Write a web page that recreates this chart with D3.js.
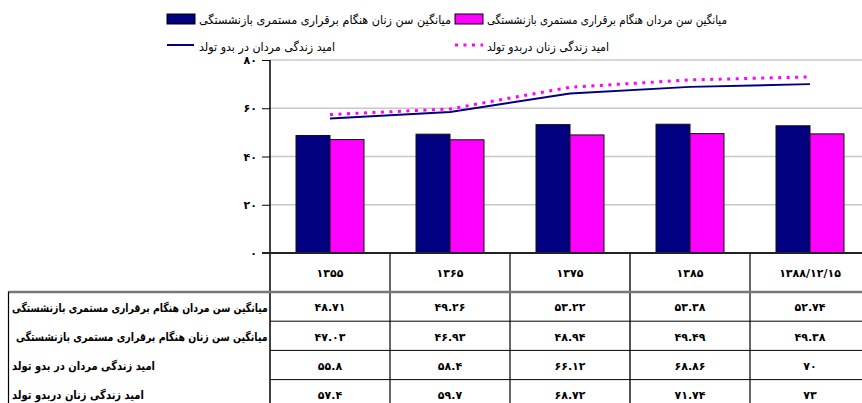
<!DOCTYPE html>
<html>
<head>
<meta charset="utf-8">
<script src="https://cdn.jsdelivr.net/npm/d3@7"></script>
<style>
  body { margin: 0; background: #fff; }
  svg text { font-family: "DejaVu Sans", sans-serif; fill: #000; }
</style>
</head>
<body>
<svg id="chart" width="862" height="403"></svg>
<script>
// Chart data
const years      = ['1355', '1365', '1375', '1385', '1388/12/15'];
const menRetire  = [48.71, 49.26, 53.22, 53.38, 52.74];
const womRetire  = [47.03, 46.93, 48.94, 49.49, 49.38];
const menLife    = [55.8, 58.4, 66.12, 68.86, 70];
const womLife    = [57.4, 59.7, 68.72, 71.74, 73];
const yTicks     = [0, 20, 40, 60, 80];

const seriesNames = [
    'میانگین سن مردان هنگام برقراری مستمری بازنشستگی',
    'میانگین سن زنان هنگام برقراری مستمری بازنشستگی',
    'امید زندگی مردان در بدو تولد',
    'امید زندگی زنان دربدو تولد'
];

// Persian digits for all printed numbers
const faDigits = '۰۱۲۳۴۵۶۷۸۹';
const toFa = (v) => String(v).replace(/[0-9]/g, d => faDigits[+d]);

const navy = '#000080';
const pink = '#ff00ff';

const svg = d3.select('#chart');

// Squeeze a text horizontally so it spans the wanted width, keeping its height
function fitWidth(sel, x, y, width) {
    sel.each(function() {
        const natural = this.getComputedTextLength();
        const sx = Math.min(1, width / natural);
        d3.select(this).attr('x', 0).attr('y', 0)
          .attr('transform', `translate(${x},${y}) scale(${sx},1)`);
    });
}

// Plot area
const plot = {left: 270, right: 870, top: 60, bottom: 253};

const xScale = d3.scaleBand().domain(years).range([plot.left, plot.right])
                 .paddingInner(0).paddingOuter(0);
const subScale = d3.scaleBand().domain([0, 1]).range([0, xScale.bandwidth()])
                   .paddingInner(0).paddingOuter(0.765);
const yScale = d3.scaleLinear().domain([0, 80]).range([plot.bottom, plot.top]);

// Grid lines
svg.append('g').selectAll('line').data(yTicks.filter(d => d > 0)).enter()
   .append('line')
   .attr('x1', plot.left).attr('x2', plot.right)
   .attr('y1', d => yScale(d)).attr('y2', d => yScale(d))
   .attr('stroke', '#c8c8c8').attr('stroke-width', 1.5);

// Bars
const bars = svg.append('g');
[menRetire, womRetire].forEach((vals, i) => {
    bars.selectAll(`.b${i}`).data(vals).enter()
        .append('rect')
        .attr('class', `b${i}`)
        .attr('x', (d, j) => xScale(years[j]) + subScale(i))
        .attr('y', d => yScale(d))
        .attr('width', subScale.bandwidth())
        .attr('height', d => yScale(0) - yScale(d))
        .attr('fill', i ? pink : navy)
        .attr('stroke', '#111').attr('stroke-width', 1);
});

// Life expectancy lines
const lineGen = d3.line()
    .x((d, j) => xScale(years[j]) + xScale.bandwidth() / 2)
    .y(d => yScale(d));

svg.append('path').datum(menLife).attr('d', lineGen)
   .attr('fill', 'none').attr('stroke', navy).attr('stroke-width', 2);
svg.append('path').datum(womLife).attr('d', lineGen)
   .attr('fill', 'none').attr('stroke', pink).attr('stroke-width', 3)
   .attr('stroke-dasharray', '3,5.5');

// Y axis
const yAxis = d3.axisLeft(yScale).tickValues(yTicks).tickFormat(toFa)
                .tickSize(8).tickPadding(5);
const yG = svg.append('g').attr('transform', `translate(${plot.left},0)`).call(yAxis);
yG.select('.domain').remove();
yG.selectAll('.tick line').attr('stroke', '#000');
yG.selectAll('.tick text').style('font-size', '11px').style('font-weight', 'bold');

// Y axis line, running down through the table
svg.append('line').attr('x1', plot.left).attr('x2', plot.left)
   .attr('y1', plot.top).attr('y2', 403).attr('stroke', '#000').attr('stroke-width', 1.5);

// Data table below the plot
const rowTop    = 292;
const rowH      = 29.2;
const tableVals = [menRetire, womRetire, menLife, womLife];
const labelX    = [12, 16, 12, 12];
const labelLen  = [256, 252, 143, 132];

// Column separators
svg.append('g').selectAll('line').data(years.slice(1)).enter()
   .append('line')
   .attr('x1', d => xScale(d)).attr('x2', d => xScale(d))
   .attr('y1', plot.bottom).attr('y2', 403)
   .attr('stroke', (d, i) => i === 2 ? '#555' : '#000')
   .attr('stroke-width', (d, i) => i === 2 ? 2 : 1.2);

// Row separators in the value columns
svg.append('g').selectAll('line').data([1, 2, 3]).enter()
   .append('line')
   .attr('x1', plot.left).attr('x2', 862)
   .attr('y1', d => rowTop + d * rowH).attr('y2', d => rowTop + d * rowH)
   .attr('stroke', '#000').attr('stroke-width', 1);

// Header line below the year row
svg.append('line').attr('x1', 8).attr('x2', 862)
   .attr('y1', rowTop).attr('y2', rowTop)
   .attr('stroke', '#777').attr('stroke-width', 2.5);

// Left border of label column
svg.append('line').attr('x1', 8.5).attr('x2', 8.5)
   .attr('y1', rowTop).attr('y2', 403).attr('stroke', '#000').attr('stroke-width', 1.2);

// X axis line
svg.append('line').attr('x1', 262).attr('x2', 862)
   .attr('y1', plot.bottom).attr('y2', plot.bottom)
   .attr('stroke', '#222').attr('stroke-width', 2);

// Year labels
svg.append('g').selectAll('text').data(years).enter()
   .append('text')
   .attr('x', d => xScale(d) + xScale.bandwidth() / 2)
   .attr('y', 273).attr('dy', '0.35em')
   .attr('text-anchor', 'middle')
   .style('font-size', '11px').style('font-weight', 'bold')
   .text(toFa);

// Table rows
tableVals.forEach((vals, r) => {
    const cy = rowTop + r * rowH + rowH / 2 + 1;
    svg.append('text')
       .attr('dy', '0.35em')
       .attr('text-anchor', 'start')
       .style('font-size', '11.5px').style('font-weight', 'bold')
       .text(seriesNames[r])
       .call(fitWidth, labelX[r], cy, labelLen[r]);
    svg.append('g').selectAll('text').data(vals).enter()
       .append('text')
       .attr('x', (d, j) => xScale(years[j]) + xScale.bandwidth() / 2)
       .attr('y', cy).attr('dy', '0.35em')
       .attr('text-anchor', 'middle')
       .style('font-size', '11px').style('font-weight', 'bold')
       .text(d => toFa(d));
});

// Legend
const legend = [
    {x: 167, y: 19, sym: 'box',  color: navy, name: seriesNames[1], len: 252},
    {x: 455, y: 19, sym: 'box',  color: pink, name: seriesNames[0], len: 240},
    {x: 167, y: 46, sym: 'line', color: navy, name: seriesNames[2], len: 136},
    {x: 455, y: 46, sym: 'dots', color: pink, name: seriesNames[3], len: 122}
];
const lg = svg.append('g').selectAll('g').data(legend).enter()
              .append('g').attr('transform', d => `translate(${d.x},${d.y})`);
lg.filter(d => d.sym === 'box').append('rect')
  .attr('x', 0).attr('y', -5).attr('width', 28).attr('height', 10)
  .attr('fill', d => d.color).attr('stroke', '#000');
lg.filter(d => d.sym === 'line').append('line')
  .attr('x1', 0).attr('x2', 27).attr('y1', -1).attr('y2', -1)
  .attr('stroke', d => d.color).attr('stroke-width', 2);
lg.filter(d => d.sym === 'dots').append('line')
  .attr('x1', 0).attr('x2', 28).attr('y1', -1).attr('y2', -1)
  .attr('stroke', d => d.color).attr('stroke-width', 3)
  .attr('stroke-dasharray', '3,5.5');
lg.append('text')
  .attr('x', 32).attr('y', 1).attr('dy', '0.35em')
  .attr('text-anchor', 'start')
  .attr('textLength', d => d.len).attr('lengthAdjust', 'spacingAndGlyphs')
  .style('font-size', '12px')
  .text(d => d.name);
</script>
</body>
</html>
